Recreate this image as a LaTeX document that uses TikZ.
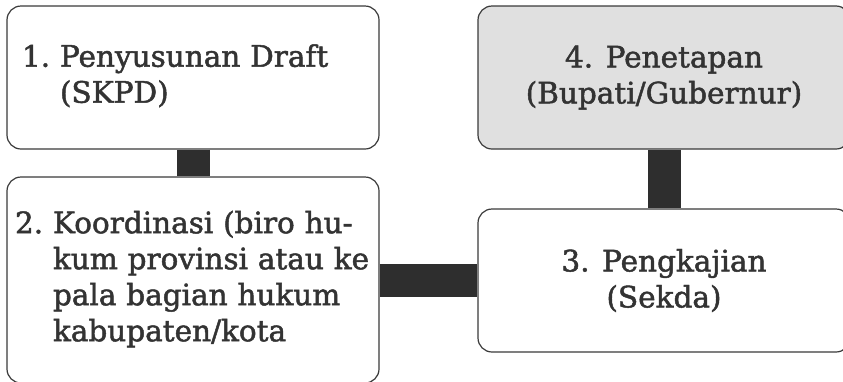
\documentclass[tikz,border=0pt]{standalone}
\usepackage{fontspec}
\setmainfont{DejaVu Serif}[FakeBold=1.6]
\usetikzlibrary{backgrounds}

\definecolor{txtgray}{HTML}{333333}
\definecolor{linegray}{HTML}{3A3A3A}
\definecolor{bargray}{HTML}{2E2E2E}
\definecolor{boxgray}{HTML}{E0E0E0}

\begin{document}
\begin{tikzpicture}[x=1pt,y=-1pt,
  box/.style={draw=linegray,line width=1.2pt,rounded corners=14pt,fill=white,
    minimum width=372pt,inner ysep=0pt,text=txtgray,
    font=\fontsize{29.5}{36}\selectfont},
  link/.style={draw=bargray,line width=33pt}]
\useasboundingbox (0,0) rectangle (843,381);

% boxes
\node[box,minimum height=143pt,text width=342pt,inner xsep=15pt,align=left] (draft) at (193,77.5)
  {\begin{tabular}{@{}l@{\ }l@{}}1.&Penyusunan Draft\\&(SKPD)\end{tabular}};
\node[box,minimum height=206pt,text width=356pt,inner xsep=8pt,align=left] (koord) at (193,280)
  {\begin{tabular}{@{}l@{\ }l@{}}2.&Koordinasi (biro hu-\\&kum provinsi atau ke\\&pala bagian hukum\\&kabupaten/kota\end{tabular}};
\node[box,minimum height=143pt,align=center] (kaji) at (664,280.5)
  {3. Pengkajian\\(Sekda)};
\node[box,minimum height=143pt,align=center,fill=boxgray] (tetap) at (664,77.5)
  {4. Penetapan\\(Bupati/Gubernur)};

% links
\begin{scope}[on background layer]
\draw[link] (draft.south) -- (koord.north);
\draw[link] (koord.east |- kaji.west) -- (kaji.west);
\draw[link] (tetap.south) -- (kaji.north);
\end{scope}
\end{tikzpicture}
\end{document}
